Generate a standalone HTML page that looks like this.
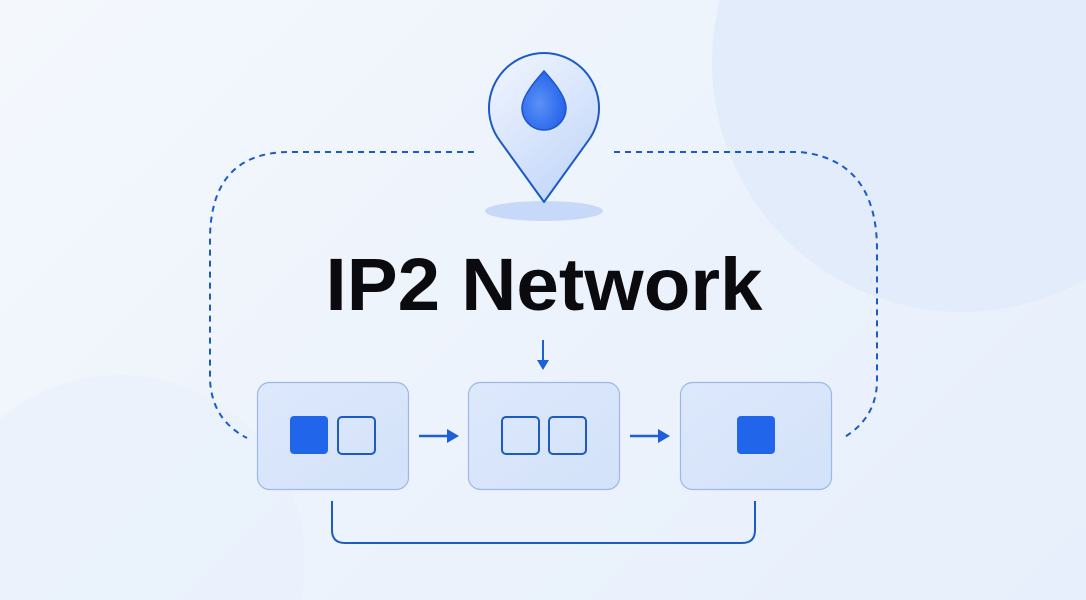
<!DOCTYPE html>
<html><head><meta charset="utf-8"><style>
html,body{margin:0;padding:0;overflow:hidden;width:1086px;height:600px}
body{background:linear-gradient(135deg,#f4f8fd 0%,#edf3fc 50%,#e6effb 100%);font-family:"Liberation Sans",sans-serif;}
svg{display:block}
</style></head><body>
<svg width="1086" height="600" viewBox="0 0 1086 600" xmlns="http://www.w3.org/2000/svg">
<defs>
<linearGradient id="pin" x1="0" y1="0" x2="0.6" y2="1"><stop offset="0" stop-color="#f2f6fe"/><stop offset="1" stop-color="#c4d8fa"/></linearGradient>
<radialGradient id="drop" cx="0.4" cy="0.55" r="0.6"><stop offset="0" stop-color="#5b91f5"/><stop offset="1" stop-color="#2563eb"/></radialGradient>
<linearGradient id="box" x1="0" y1="0" x2="1" y2="1"><stop offset="0" stop-color="#dde8fb"/><stop offset="1" stop-color="#d3e2fa"/></linearGradient>
</defs>
<circle cx="962" cy="62" r="250" fill="#e1ebfb" opacity="0.9"/>
<circle cx="120" cy="560" r="185" fill="#e8f0fb" opacity="0.6"/>
<g fill="none" stroke="#1d5bc4" stroke-width="2" stroke-dasharray="6 5">
<path d="M474 152 H290 Q210 152 210 240 V380 Q212 420 247 438"/>
<path d="M614 152 H800 Q877 160 877 250 V380 Q877 418 843 438"/>
</g>
<ellipse cx="544" cy="211" rx="59" ry="10" fill="#c7d9f8"/>
<path d="M544 202 L499.4 140.2 A55 55 0 1 1 588.6 140.2 Z" fill="url(#pin)" stroke="#1d5bc4" stroke-width="2" stroke-linejoin="round"/>
<path d="M544 71 C538 78 522 95 522 108 A22 22 0 0 0 566 108 C566 95 550 78 544 71 Z" fill="url(#drop)" stroke="#1d56c8" stroke-width="1.5"/>
<text x="544" y="310" text-anchor="middle" font-family="Liberation Sans, sans-serif" font-weight="bold" font-size="74" fill="#0b0b0f" textLength="437" lengthAdjust="spacingAndGlyphs">IP2 Network</text>
<line x1="543" y1="340" x2="543" y2="362" stroke="#1d5fd6" stroke-width="2"/>
<path d="M537 360 L549 360 L543 370 Z" fill="#1d5fd6"/>
<g fill="url(#box)" stroke="#9db8e6" stroke-width="1.2">
<rect x="257.5" y="382.5" width="151" height="107" rx="12"/>
<rect x="468.5" y="382.5" width="151" height="107" rx="12"/>
<rect x="680.5" y="382.5" width="151" height="107" rx="12"/>
</g>
<rect x="290" y="416" width="38" height="38" rx="4" fill="#2166ea"/>
<g fill="none" stroke="#1d5bc4" stroke-width="2">
<rect x="338" y="417" width="37" height="37" rx="4"/>
<rect x="502" y="417" width="37" height="37" rx="4"/>
<rect x="549" y="417" width="37" height="37" rx="4"/>
</g>
<rect x="737" y="416" width="38" height="38" rx="4" fill="#2166ea"/>
<g stroke="#1d5fd6" stroke-width="2.5"><line x1="419" y1="436" x2="448" y2="436"/><line x1="630" y1="436" x2="659" y2="436"/></g>
<path d="M447 429 L459 436 L447 443 Z" fill="#1d5fd6"/>
<path d="M658 429 L670 436 L658 443 Z" fill="#1d5fd6"/>
<path d="M332 501 V530 Q332 543 345 543 H742 Q755 543 755 530 V501" fill="none" stroke="#1d5bc4" stroke-width="2"/>
</svg>
</body></html>
